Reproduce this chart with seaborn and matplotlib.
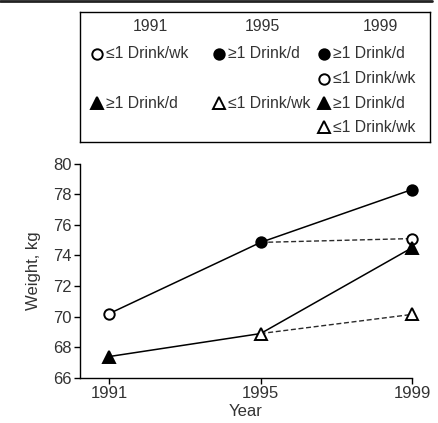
import matplotlib
matplotlib.use("Agg")
import matplotlib.pyplot as plt
import seaborn as sns
import pandas as pd
from matplotlib.lines import Line2D

sns.set_style("white")
plt.rcParams['font.family'] = ['Liberation Sans', 'DejaVu Sans']

# ---- data ----
years = [1991, 1995, 1999]
circle_solid = [70.2, 74.85, 78.3]      # 1991 <=1/wk -> 1995 >=1/d -> 1999 >=1/d
circle_dashed_1999 = 75.1               # 1999 <=1/wk
triangle_solid = [67.4, 68.9, 74.5]     # 1991 >=1/d -> 1995 <=1/wk -> 1999 >=1/d
triangle_dashed_1999 = 70.15            # 1999 <=1/wk
yticks = [66, 68, 70, 72, 74, 76, 78, 80]

legend_headers = ["1991", "1995", "1999"]
legend_cols = [
    [("o", False, "≤1 Drink/wk", 0), ("^", True, "≥1 Drink/d", 2)],
    [("o", True, "≥1 Drink/d", 0), ("^", False, "≤1 Drink/wk", 2)],
    [("o", True, "≥1 Drink/d", 0), ("o", False, "≤1 Drink/wk", 1),
     ("^", True, "≥1 Drink/d", 2), ("^", False, "≤1 Drink/wk", 3)],
]

TXT = "#333333"
FS = 12
LFS = 11.3
W, H = 439, 423
fig = plt.figure(figsize=(W / 100, H / 100), dpi=100)

# top rule
fig.add_artist(Line2D([0, 432 / W], [1 - 1.3 / H, 1 - 1.3 / H], color="#222222", lw=2.0))

# ---- main axes ----
ax = fig.add_axes([80 / W, 1 - 378 / H, (412 - 80) / W, (378 - 163.5) / H])

df_c = pd.DataFrame({"Year": years, "Weight": circle_solid})
df_t = pd.DataFrame({"Year": years, "Weight": triangle_solid})
df_cd = pd.DataFrame({"Year": [1995, 1999], "Weight": [circle_solid[1], circle_dashed_1999]})
df_td = pd.DataFrame({"Year": [1995, 1999], "Weight": [triangle_solid[1], triangle_dashed_1999]})

lw = 1.1
sns.lineplot(data=df_c, x="Year", y="Weight", ax=ax, color="black", lw=lw)
sns.lineplot(data=df_t, x="Year", y="Weight", ax=ax, color="black", lw=lw)
sns.lineplot(data=df_cd, x="Year", y="Weight", ax=ax, color="#2a2a2a", lw=1.0, linestyle=(0, (3.6, 1.9)))
sns.lineplot(data=df_td, x="Year", y="Weight", ax=ax, color="#2a2a2a", lw=1.0, linestyle=(0, (3.6, 1.9)))

ms = 7.5
def mark(a, x, y, m, filled):
    a.plot([x], [y], marker=m, markersize=ms if m == "o" else ms + 0.5, color="black",
           markerfacecolor="black" if filled else "white",
           markeredgewidth=1.4, clip_on=False, zorder=5, linestyle="none")

mark(ax, years[0], circle_solid[0], "o", False)
mark(ax, years[1], circle_solid[1], "o", True)
mark(ax, years[2], circle_solid[2], "o", True)
mark(ax, years[2], circle_dashed_1999, "o", False)
mark(ax, years[0], triangle_solid[0], "^", True)
mark(ax, years[1], triangle_solid[1], "^", False)
mark(ax, years[2], triangle_solid[2], "^", True)
mark(ax, years[2], triangle_dashed_1999, "^", False)

ax.set_xlim(1990.23, 1999)
ax.set_ylim(66, 80)
ax.set_xticks(years)
ax.set_yticks(yticks)
ax.tick_params(axis="both", direction="out", length=4, width=1, color="black",
               labelsize=FS, labelcolor=TXT, pad=2, left=True, bottom=True)
for s in ["top", "right"]:
    ax.spines[s].set_visible(False)
for s in ["left", "bottom"]:
    ax.spines[s].set_color("black")
    ax.spines[s].set_linewidth(1.0)
ax.set_xlabel("Year", fontsize=FS, color=TXT, labelpad=2)
ax.set_ylabel("Weight, kg", fontsize=FS, color=TXT, labelpad=9)

# ---- legend box ----
lax = fig.add_axes([80 / W, 1 - 142 / H, (430 - 80) / W, (142 - 12) / H])
lax.set_xlim(80, 430)
lax.set_ylim(142, 12)
lax.set_xticks([])
lax.set_yticks([])
for s in lax.spines.values():
    s.set_color("black")
    s.set_linewidth(1.0)

header_x = [150, 262, 380]
marker_x = [97, 219, 324]
row_y = [54, 79, 103, 127]
for hx, h in zip(header_x, legend_headers):
    lax.text(hx, 27, h, ha="center", va="center", fontsize=LFS, color=TXT)
for mx, col in zip(marker_x, legend_cols):
    for m, filled, label, r in col:
        mark(lax, mx, row_y[r], m, filled)
        lax.text(mx + 9.5, row_y[r], label, ha="left", va="center", fontsize=LFS, color=TXT)

fig.savefig("out.png", dpi=100)
